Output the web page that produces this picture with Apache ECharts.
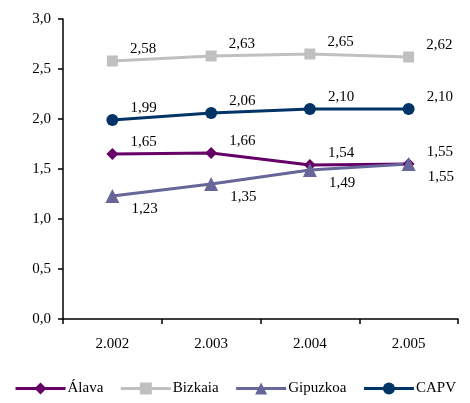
<!DOCTYPE html>
<html><head><meta charset="utf-8">
<script src="https://cdn.jsdelivr.net/npm/echarts@6/dist/echarts.min.js"></script>
<style>html,body{margin:0;padding:0;background:#fff}#c{width:470px;height:403px}</style>
</head><body><div id="c"></div>
<script>
const categories = ['2.002', '2.003', '2.004', '2.005'];
const alava = [1.65, 1.66, 1.54, 1.55];
const bizkaia = [2.58, 2.63, 2.65, 2.62];
const gipuzkoa = [1.23, 1.35, 1.49, 1.55];
const capv = [1.99, 2.06, 2.10, 2.10];
const yTicks = [0, 0.5, 1, 1.5, 2, 2.5, 3];

const font = 'Liberation Serif';
const fmt = p => p.value.toFixed(2).replace('.', ',');
function mk(name, data, color, symbol, size, below) {
  return {
    name, type: 'line', data, symbol, symbolSize: size,
    lineStyle: { color, width: 3 }, itemStyle: { color },
    label: {
      show: true, position: 'right', distance: 12,
      offset: below ? [0, 13] : [0, -12],
      formatter: fmt, color: '#000', fontFamily: font, fontSize: 15
    },
    z: 2
  };
}
const chart = echarts.init(document.getElementById('c'));
chart.setOption({
  animation: false,
  textStyle: { fontFamily: font },
  grid: { left: 63, right: 12, top: 19, bottom: 84 },
  xAxis: {
    type: 'category', data: categories, boundaryGap: true,
    axisLine: { lineStyle: { color: '#000', width: 1.5 } },
    axisTick: { show: true, length: 5, lineStyle: { color: '#000', width: 1.5 } },
    axisLabel: { color: '#000', fontFamily: font, fontSize: 15, margin: 18 }
  },
  yAxis: {
    type: 'value', min: 0, max: 3, interval: 0.5,
    axisLine: { show: true, lineStyle: { color: '#000', width: 1.5 } },
    axisTick: { show: true, length: 5, lineStyle: { color: '#000', width: 1.5 } },
    splitLine: { show: false },
    axisLabel: { color: '#000', fontFamily: font, fontSize: 15, margin: 12,
      formatter: v => v.toFixed(1).replace('.', ',') }
  },
  legend: {
    bottom: 2, left: 'center', itemWidth: 50, itemHeight: 15, itemGap: 16,
    lineStyle: { width: 3 },
    textStyle: { color: '#000', fontFamily: font, fontSize: 15, padding: [0,0,0,-3] },
    data: ['Álava', 'Bizkaia', 'Gipuzkoa', 'CAPV']
  },
  series: [
    mk('Álava', alava, '#660066', 'diamond', 12, false),
    mk('Bizkaia', bizkaia, '#C0C0C0', 'rect', 11, false),
    mk('Gipuzkoa', gipuzkoa, '#666699', 'triangle', 14, true),
    mk('CAPV', capv, '#003366', 'circle', 12, false)
  ]
});
</script></body></html>
